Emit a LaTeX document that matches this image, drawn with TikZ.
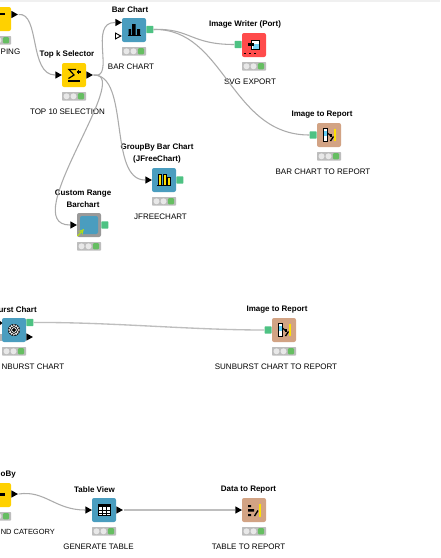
\documentclass[tikz,border=0pt]{standalone}
\usepackage{fontspec}
\setmainfont{Liberation Sans}
\usetikzlibrary{shapes.geometric}
\definecolor{kyellow}{HTML}{FFD100}
\definecolor{kblue}{HTML}{4A9DBF}
\definecolor{kred}{HTML}{FF4B4B}
\definecolor{ktan}{HTML}{D2A384}
\definecolor{kgreen}{HTML}{4EC283}
\definecolor{kstatus}{HTML}{BDBDBD}
\definecolor{klight}{HTML}{E8E8E8}
\definecolor{kok}{HTML}{66BE62}
\definecolor{kwire}{HTML}{ABABAB}
\definecolor{kwirepale}{HTML}{BEBEBE}
\tikzset{
  x=0.75pt,y=-0.75pt,
  kbox/.style={draw=none,rounded corners=1.5pt,minimum size=18pt,inner sep=0pt},
  kstat/.style={fill=kstatus,minimum width=18pt,minimum height=6.4pt,inner sep=0pt,rounded corners=0.5pt},
  klamp/.style={circle,fill=klight,minimum size=4.5pt,inner sep=0pt},
  kdone/.style={fill=kok,minimum size=4.6pt,inner sep=0pt,rounded corners=0.8pt},
  kin/.style={isosceles triangle,isosceles triangle stretches=true,fill=black,minimum width=5.6pt,minimum height=5pt,inner sep=0pt},
  kopen/.style={kin,fill=white,draw=black,line width=0.7pt,minimum width=4.4pt,minimum height=4pt},
  kport/.style={fill=kgreen,minimum size=5.4pt,inner sep=0pt,rounded corners=0.5pt},
  kname/.style={font=\fontsize{6}{7}\selectfont\bfseries,inner sep=0pt,text=black,align=center,yshift=-1pt},
  kcap/.style={font=\fontsize{6}{7}\selectfont,inner sep=0pt,text=black,yshift=-0.5pt},
  kwirel/.style={draw=kwire,line width=0.8pt},
  kwirepl/.style={draw=kwirepale,line width=1pt},
}
% name, left, top, colour
\newcommand{\kn}[4]{%
  \node[kbox,fill=#4] (#1) at (#2+12,#3+12) {};
  \node[kstat] (#1st) at (#2+12,#3+33.3) {};
  \node[klamp] (#1a) at (#2+4.5,#3+33.3) {};
  \node[klamp] (#1b) at (#2+11.5,#3+33.3) {};
  \node[kdone] (#1c) at (#2+19,#3+33.3) {};
}
\newcommand{\imgicon}[2]{%
  \begin{scope}[shift={(#1,#2)}]
    \fill[white] (6.5,5.5) rectangle (10.5,18);
    \fill[cyan!60!white] (6.5,8) rectangle (10,13);
    \draw[black,line width=0.6pt] (10.5,5.5) -- (6.5,5.5) -- (6.5,18) -- (10.5,18) -- cycle;
    \draw[black,line width=0.9pt] (10.5,10) -- (14,13);
    \fill[black] (12.5,11) rectangle (15,14);
    \draw[yellow!85!orange,line width=1.5pt] (17.8,5.5) -- (17.8,18);
    \draw[black,line width=1pt] (13.5,18) -- (16.5,13.5);
  \end{scope}}
\begin{document}
\begin{tikzpicture}
\useasboundingbox (0,0) rectangle (440,558);
\fill[white] (0,0) rectangle (440,558);

% partial node top left
\kn{mp}{-13}{7}{kyellow}
\fill[black] (0,12.5) rectangle (5,15);
\node[kin,anchor=west] (mpo) at (11,14.5) {};
\node[kcap,anchor=east] (mpl) at (20.5,51) {PING};

% top k
\kn{tk}{62}{63}{kyellow}
\node[kin,anchor=west] (tki) at (55,75) {};
\node[kin,anchor=west] (tko) at (86,75) {};
\node[kname] (tkn) at (67,53) {Top k Selector};
\node[kcap] (tkl) at (67.5,111) {TOP 10 SELECTION};
\begin{scope}[shift={(62,63)}]
  \draw[black,line width=0.9pt] (14,6.5) -- (7,6.5) -- (12,12) -- (6.5,15.5);
  \draw[black,line width=0.8pt] (14.5,9) -- (19,9) (16.8,6.8) -- (16.8,11.2);
  \draw[black,line width=1.1pt] (6,17.8) -- (18,17.8);
\end{scope}

% bar chart
\kn{bc}{122}{18}{kblue}
\node[kin,anchor=west] (bci) at (115,22.5) {};
\node[kopen,anchor=west] (bcj) at (115,36) {};
\node[kport,anchor=west] (bco) at (146,29.5) {};
\node[kname] (bcn) at (130,8) {Bar Chart};
\node[kcap] (bcl) at (131,66) {BAR CHART};
\begin{scope}[shift={(122,18)}]
  \fill[black] (6.5,11) rectangle (9,17) (10,6) rectangle (13.5,17) (15,11) rectangle (18,17);
  \fill[black] (5.5,17) rectangle (19,17.6);
\end{scope}

% image writer
\kn{iw}{242}{33}{kred}
\node[kport,anchor=east] (iwi) at (242,44.5) {};
\node[kname] (iwn) at (245,23) {Image Writer (Port)};
\node[kcap] (iwl) at (250,81) {SVG EXPORT};
\begin{scope}[shift={(242,33)}]
  \fill[white] (9,7) rectangle (17.5,16);
  \fill[cyan!55!white] (10.5,11) rectangle (17.5,16);
  \draw[black,line width=0.6pt] (9,7) rectangle (17.5,16);
  \fill[black] (6,10) rectangle (11.5,13);
  \foreach \q in {2,7,12} \fill[black] (\q,19.5) rectangle (\q+2,20.5);
\end{scope}

% image to report (bar chart)
\kn{ir}{317}{123}{ktan}
\node[kport,anchor=east] (iri) at (317,135) {};
\node[kname] (irn) at (322,113) {Image to Report};
\node[kcap] (irl) at (323,171) {BAR CHART TO REPORT};
\imgicon{317}{123}

% jfreechart
\kn{jf}{152}{168}{kblue}
\node[kin,anchor=west] (jfi) at (145,180) {};
\node[kport,anchor=west] (jfo) at (176,180) {};
\node[kname,align=center] (jfn) at (157,152) {GroupBy Bar Chart\\[2pt](JFreeChart)};
\node[kcap] (jfl) at (160.5,216) {JFREECHART};
\begin{scope}[shift={(152,168)}]
  \fill[orange!25!yellow] (6.5,6.5) rectangle (9,17) (11.5,6.5) rectangle (14,17) (15.5,9) rectangle (18,17);
  \draw[black,line width=0.55pt] (6.5,6.5) rectangle (9,17) (11.5,6.5) rectangle (14,17) (15.5,9) rectangle (18,17);
  \draw[black,line width=0.7pt] (5,17.5) -- (19,17.5);
\end{scope}

% custom range
\kn{cr}{77}{213}{gray!80}
\node[kbox,fill=kblue,minimum size=13.5pt] (crb) at (89,225) {};
\node[kin,anchor=west] (cri) at (70,225) {};
\node[kport,anchor=west] (cro) at (101,225) {};
\node[kname,align=center] (crn) at (83,197) {Custom Range\\[2pt]Barchart};
\draw[yellow!70!green,line width=0.9pt,->,>=stealth] (77.5,236) -- (84,229);

% sunburst
\kn{sb}{2}{318}{kblue}
\fill[gray!60] (0,334) rectangle (2,341);
\fill[black] (0,321) -- (2,322.5) -- (2,323.5) -- (0,325) -- cycle;
\node[kport,anchor=west] (sbo) at (26,322.5) {};
\node[kin,anchor=west] (sbp) at (26,337) {};
\node[kname,anchor=east] (sbn) at (37,308) {urst Chart};
\node[kcap,anchor=east] (sbl) at (64.5,366) {NBURST CHART};
\fill[black] (14,330) circle[radius=6];
\draw[white,line width=0.6pt] (14,330) circle[radius=4.4] (14,330) circle[radius=2.4];
\draw[white,line width=0.4pt,dash pattern=on 1pt off 1pt] (14,330) circle[radius=5.4];

% image to report (sunburst)
\kn{is}{272}{318}{ktan}
\node[kport,anchor=east] (isi) at (272,330) {};
\node[kname] (isn) at (277,308) {Image to Report};
\node[kcap] (isl) at (276,366) {SUNBURST CHART TO REPORT};
\imgicon{272}{318}

% partial node bottom left
\kn{gb}{-13}{483}{kyellow}
\fill[black] (0,493) rectangle (5,495.5);
\node[kin,anchor=west] (gbo) at (11,494) {};
\node[kname,anchor=east] (gbn) at (16,473) {oBy};
\node[kcap,anchor=west,font=\fontsize{5.6}{7}\selectfont] (gbl) at (0.5,531) {ND CATEGORY};

% table view
\kn{tv}{92}{498}{kblue}
\node[kin,anchor=west] (tvi) at (85,510) {};
\node[kin,anchor=west] (tvo) at (116,510) {};
\node[kname] (tvn) at (94.5,488) {Table View};
\node[kcap] (tvl) at (98.5,546) {GENERATE TABLE};
\begin{scope}[shift={(92,498)}]
  \fill[white] (6.5,6.5) rectangle (18,17.5);
  \fill[black] (6.5,6.5) rectangle (18,9);
  \draw[black,line width=0.7pt] (6.5,6.5) rectangle (18,17.5)
    (6.5,12) -- (18,12) (6.5,15) -- (18,15) (10.3,6.5) -- (10.3,17.5) (14.1,6.5) -- (14.1,17.5);
\end{scope}

% data to report
\kn{dr}{242}{498}{ktan}
\node[kin,anchor=west] (dri) at (235,510) {};
\node[kname] (drn) at (248.5,488) {Data to Report};
\node[kcap] (drl) at (248.5,546) {TABLE TO REPORT};
\begin{scope}[shift={(242,498)}]
  \fill[black] (6,7) rectangle (9,9) (6,11) rectangle (12,13.5) (6,16) rectangle (9,18);
  \draw[yellow!85!orange,line width=1.5pt] (17.8,6) -- (17.8,18.5);
  \draw[black,line width=1pt] (12.5,18) -- (16,12.5);
\end{scope}

% connectors
\draw[kwirel] (mpo.east) .. controls (40,12) and (29,75) .. (tki.west);
\draw[kwirel] (tko.east) .. controls (116,80) and (88,22) .. (bci.west);
\draw[kwirel] (tko.east) .. controls (130,75) and (108,180) .. (jfi.west);
\draw[kwirel] (tko.east) .. controls (135,72) and (15,225) .. (cri.west);
\draw[kwirel] (bco.east) .. controls (190,28) and (190,44.5) .. (iwi.west);
\draw[kwirel] (bco.east) .. controls (225,28) and (230,135) .. (iri.west);
\draw[kwirepl] (sbo.east) .. controls (110,322) and (190,330) .. (isi.west);
\draw[kwirel] (gbo.east) .. controls (45,490) and (55,510) .. (tvi.west);
\draw[kwirepl] (tvo.east) -- (dri.west);

% top band, which cuts the Bar Chart title
\fill[white] (100,0) rectangle (160,5);
\fill[gray!12] (0,0) rectangle (440,2);
\end{tikzpicture}
\end{document}
